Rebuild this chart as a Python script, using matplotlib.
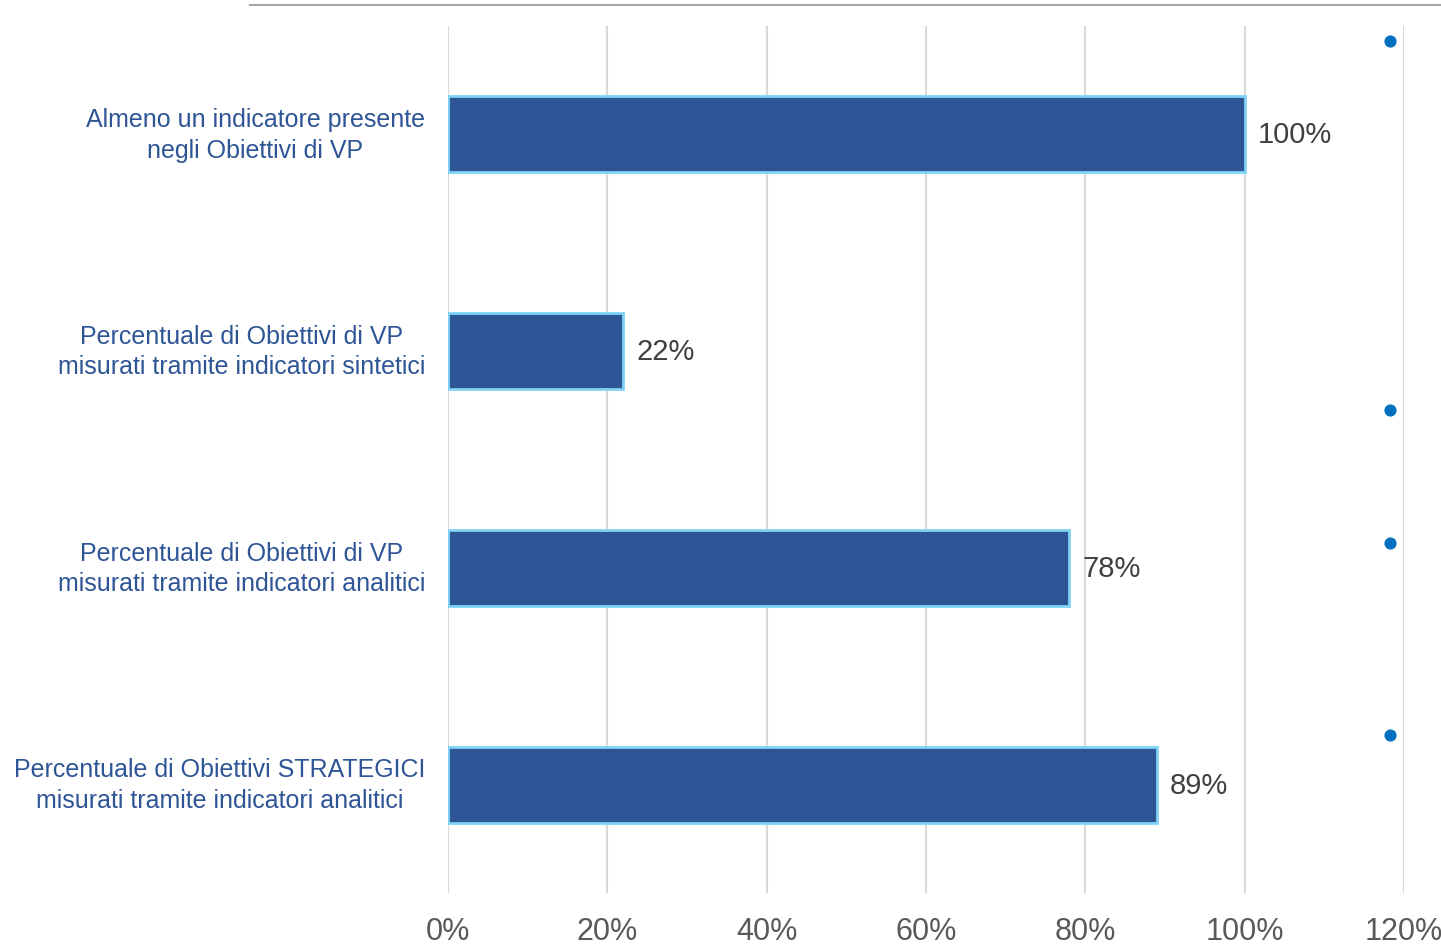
import numpy as np
import matplotlib.pyplot as plt
import matplotlib.transforms as mtransforms
from matplotlib.lines import Line2D
from matplotlib.ticker import FuncFormatter

categories = [
    "Almeno un indicatore presente\nnegli Obiettivi di VP",
    "Percentuale di Obiettivi di VP\nmisurati tramite indicatori sintetici",
    "Percentuale di Obiettivi di VP\nmisurati tramite indicatori analitici",
    "Percentuale di Obiettivi STRATEGICI\nmisurati tramite indicatori analitici",
]
values = [100, 22, 78, 89]

# second series drawn as markers near the right edge
marker_x = [118.3, 118.3, 118.3, 118.3]
marker_y = [-0.43, 1.27, 1.885, 2.77]

x_ticks = [0, 20, 40, 60, 80, 100, 120]

plt.rcParams['font.family'] = ['Liberation Sans', 'DejaVu Sans']

fig = plt.figure(figsize=(14.41, 9.46), dpi=100)
ax = fig.add_axes([0.3109, 0.056, 0.6634, 0.9165])

ypos = np.arange(len(categories))
ax.barh(ypos, values, height=0.35, color='#2E5596', edgecolor='#7FD4F6',
        linewidth=2, zorder=3)

for y, v in zip(ypos, values):
    ax.text(v + 1.6, y + 0.005, f"{v}%", va='center', ha='left', fontsize=21,
            color='#404040', zorder=4)

ax.scatter(marker_x, marker_y, s=60, color='#0070C0', zorder=4, clip_on=False)

ax.set_xlim(0, 120)
ax.set_ylim(3.5, -0.5)
ax.set_xticks(x_ticks)
ax.xaxis.set_major_formatter(FuncFormatter(lambda v, p: f"{v:.0f}%"))
ax.set_yticks(ypos)
ax.set_yticklabels([])

# category labels, right-aligned against the axis, lines centred
lbl_trans = mtransforms.offset_copy(ax.get_yaxis_transform(), fig=fig,
                                    x=-23, y=-1, units='dots')
for y, name in zip(ypos, categories):
    ax.text(0, y, name, transform=lbl_trans, ha='right', va='center',
            multialignment='center', linespacing=1.35, fontsize=18,
            color='#2E5596')

ax.grid(axis='x', color='#D9D9D9', linewidth=1.5, zorder=0)
ax.tick_params(axis='x', length=0, labelsize=22, labelcolor='#595959', pad=17)
ax.tick_params(axis='y', length=0)
for side in ['top', 'bottom', 'left', 'right']:
    ax.spines[side].set_visible(False)

# thin rule across the top of the figure
fig.add_artist(Line2D([0.1735, 1.0], [0.995, 0.995], transform=fig.transFigure,
                      color='#A6A6A6', linewidth=1.5))

plt.savefig("out.png", dpi=100)
